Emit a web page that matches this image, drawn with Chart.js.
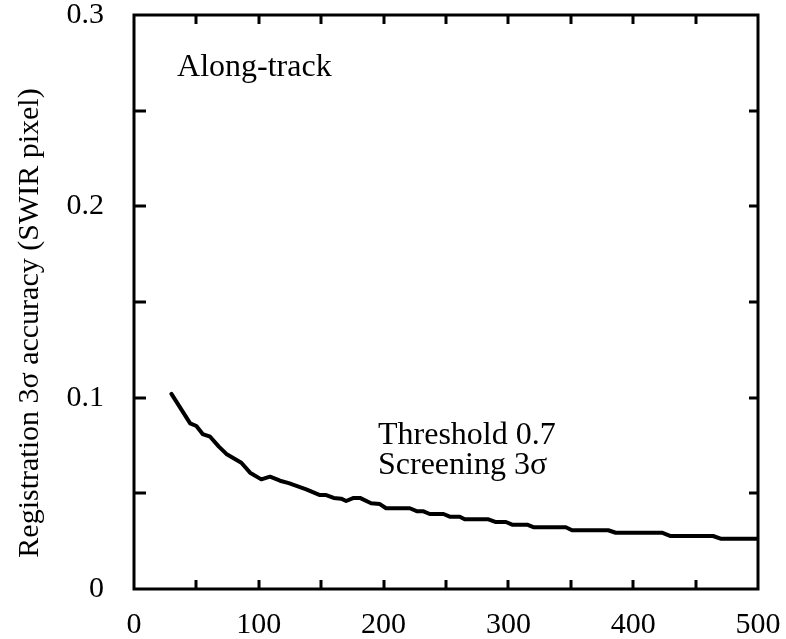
<!DOCTYPE html>
<html>
<head>
<meta charset="utf-8">
<script src="https://cdn.jsdelivr.net/npm/chart.js@4.4.1/dist/chart.umd.min.js"></script>
<style>
  html, body { margin: 0; padding: 0; background: #fff; }
  #wrap { width: 786px; height: 639px; position: relative; }
</style>
</head>
<body>
<div id="wrap"><canvas id="chart"></canvas></div>
<script>
// number of matched points (x) vs. registration 3-sigma accuracy (y)
const pointCount = [30, 45, 50, 55, 61, 68, 74, 86, 93, 102, 109, 117, 124, 138, 149, 154,
  160, 166, 170, 176, 181, 190, 197, 202, 221, 227, 232, 237, 248, 253, 261, 265, 284,
  290, 298, 303, 315, 320, 346, 351, 380, 386, 423, 430, 464, 470, 500];
const accuracy = [0.102, 0.0866, 0.0852, 0.081, 0.0796, 0.0744, 0.0706, 0.066, 0.0608,
  0.0573, 0.0587, 0.0566, 0.0553, 0.0521, 0.0491, 0.0491, 0.0476, 0.0472, 0.046, 0.0476,
  0.0476, 0.0448, 0.0444, 0.0422, 0.0422, 0.0406, 0.0406, 0.0392, 0.0392, 0.0378, 0.0378,
  0.0364, 0.0364, 0.035, 0.035, 0.0336, 0.0336, 0.0323, 0.0323, 0.0307, 0.0307, 0.0294,
  0.0294, 0.0277, 0.0277, 0.0263, 0.0263];

// tick marks drawn inside the frame
const xTickValues = [50, 100, 150, 200, 250, 300, 350, 400, 450];
const yTickValues = [0.05, 0.1, 0.15, 0.2, 0.25];

// text notes placed in data coordinates (left edge, baseline)
const noteTexts = ['Along-track', 'Threshold 0.7', 'Screening 3\u03c3'];
const noteX = [34.5, 195.5, 195.5];
const noteY = [0.268, 0.0758, 0.0601];

const yTitle = 'Registration 3\u03c3 accuracy (SWIR pixel)';

const serif = '"Liberation Serif", "Times New Roman", serif';

// frame, inward ticks, y title and the text notes
const frameTicks = {
  id: 'frameTicks',
  afterDraw(chart) {
    const { ctx, chartArea: a, scales: { x, y } } = chart;
    ctx.save();
    ctx.strokeStyle = '#000';
    ctx.lineWidth = 3;
    ctx.lineCap = 'butt';
    ctx.strokeRect(a.left, a.top, a.right - a.left, a.bottom - a.top);
    ctx.beginPath();
    xTickValues.forEach(v => {
      const px = Math.round(x.getPixelForValue(v));
      ctx.moveTo(px, a.bottom); ctx.lineTo(px, a.bottom - 9);
      ctx.moveTo(px, a.top); ctx.lineTo(px, a.top + 9);
    });
    yTickValues.forEach(v => {
      const py = Math.round(y.getPixelForValue(v));
      ctx.moveTo(a.left, py); ctx.lineTo(a.left + 12, py);
      ctx.moveTo(a.right, py); ctx.lineTo(a.right - 9, py);
    });
    ctx.stroke();

    ctx.fillStyle = '#000';
    ctx.font = '32px ' + serif;
    ctx.textAlign = 'left';
    ctx.textBaseline = 'alphabetic';
    noteTexts.forEach((t, i) => {
      ctx.fillText(t, x.getPixelForValue(noteX[i]), y.getPixelForValue(noteY[i]));
    });

    // y title, sits a little below the middle of the axis like in the original
    ctx.font = '30px ' + serif;
    ctx.textAlign = 'center';
    ctx.textBaseline = 'middle';
    ctx.translate(30, (a.top + a.bottom) / 2 + 21);
    ctx.rotate(-Math.PI / 2);
    ctx.fillText(yTitle, 0, 0);
    ctx.restore();
  }
};

new Chart(document.getElementById('chart'), {
  type: 'line',
  data: {
    datasets: [{
      data: pointCount.map((v, i) => ({ x: v, y: accuracy[i] })),
      borderColor: '#000',
      borderWidth: 4,
      pointRadius: 0,
      tension: 0,
      borderJoinStyle: 'round',
      borderCapStyle: 'round',
      fill: false
    }]
  },
  options: {
    responsive: true,
    maintainAspectRatio: false,
    animation: false,
    layout: { padding: { top: 15, right: 28, left: 0, bottom: 0 } },
    plugins: { legend: { display: false }, tooltip: { enabled: false } },
    scales: {
      x: {
        type: 'linear',
        min: 0, max: 500,
        grid: { display: false, drawTicks: false },
        border: { display: false },
        ticks: { stepSize: 100, color: '#000', padding: 18, font: { family: serif, size: 30 } },
        afterFit(scale) {
          scale.height = 50;
          scale.paddingLeft = 0; scale.paddingRight = 0;
        }
      },
      y: {
        min: 0, max: 0.3,
        grid: { display: false, drawTicks: false },
        border: { display: false },
        ticks: {
          stepSize: 0.1, color: '#000', padding: 30,
          font: { family: serif, size: 30 },
          callback: v => v === 0 ? '0' : v.toFixed(1)
        },
        afterFit(scale) {
          scale.width = 134;
          scale.paddingTop = 0; scale.paddingBottom = 0;
        }
      }
    }
  },
  plugins: [frameTicks]
});
</script>
</body>
</html>
